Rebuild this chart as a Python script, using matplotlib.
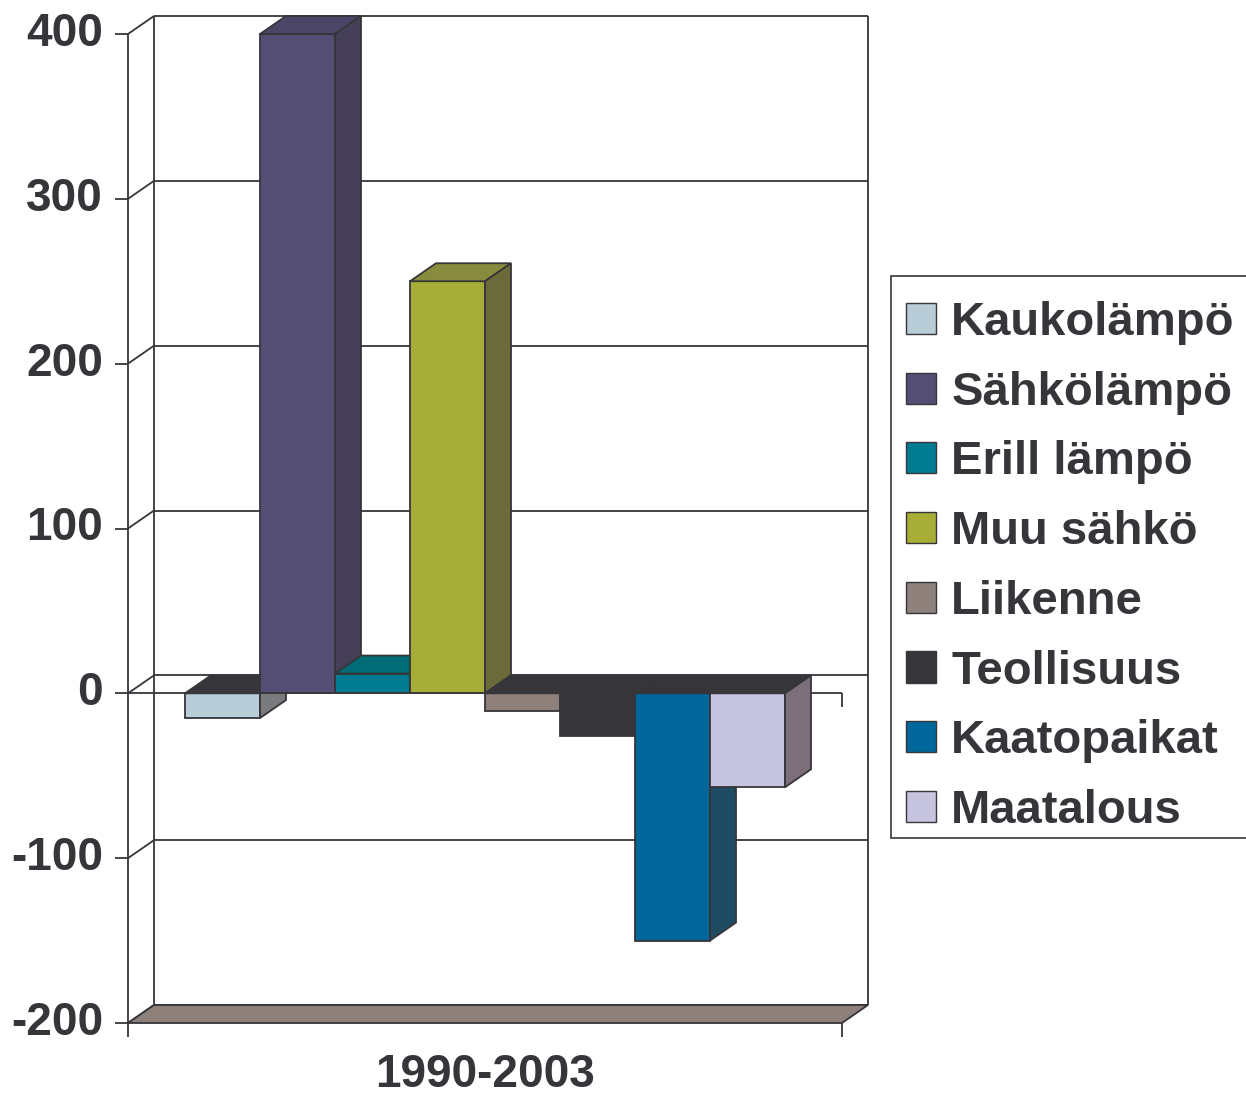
import matplotlib
matplotlib.use("Agg")
import matplotlib.pyplot as plt
from matplotlib.patches import Polygon, Patch, Rectangle

# ---------------- data ----------------
categories = ["Kaukolämpö", "Sähkölämpö", "Erill lämpö", "Muu sähkö",
              "Liikenne", "Teollisuus", "Kaatopaikat", "Maatalous"]
values = [-15, 400, 12, 250, -11, -26, -150, -57]
y_ticks = [400, 300, 200, 100, 0, -100, -200]
period_label = "1990-2003"

# ---------------- styles ----------------
front_colors = ["#b8cdd8", "#544e75", "#007b92", "#a6ae38",
                "#8e807b", "#36353a", "#00679b", "#c7c4e0"]
side_colors = ["#7a7b7d", "#453f58", "#005f6e", "#6a6a3a",
               "#6e625e", "#2a292d", "#1f4c63", "#7c6f7b"]
top_colors = ["#36353a", "#4b4567", "#006c78", "#888a3d",
              "#36353a", "#36353a", "#36353a", "#36353a"]
edge = "#36353a"
text_color = "#36353a"
floor_color = "#8e817c"
FONT = "Liberation Sans"

W, H, DPI = 1246, 1097, 100
# layout (pixels)
X0_PX, BAR_PX = 185, 75          # left edge of first bar, bar width
Y400_PX, YM200_PX = 34, 1023     # pixel rows of value 400 and -200
DX_PX, DY_PX = 26, 18            # 3-D depth offset
AX_L_PX, AX_R_PX = 128, 842      # front axis extent

ppv = (YM200_PX - Y400_PX) / (y_ticks[0] - y_ticks[-1])
ymax = y_ticks[0] + Y400_PX / ppv
ymin = y_ticks[0] - (H - Y400_PX) / ppv
xmin = -X0_PX / BAR_PX
xmax = (W - X0_PX) / BAR_PX
dx = DX_PX / BAR_PX
dy = DY_PX / ppv
axl = (AX_L_PX - X0_PX) / BAR_PX
axr = (AX_R_PX - X0_PX) / BAR_PX
vmax, vmin = y_ticks[0], y_ticks[-1]

fig = plt.figure(figsize=(W / DPI, H / DPI), dpi=DPI)
ax = fig.add_axes([0, 0, 1, 1])
ax.set_xlim(xmin, xmax)
ax.set_ylim(ymin, ymax)
ax.axis("off")

lw = 1.3


def poly(pts, fc, z, ec=edge, lw_=lw):
    ax.add_patch(Polygon(pts, closed=True, facecolor=fc, edgecolor=ec,
                         linewidth=lw_, zorder=z, joinstyle="miter"))


def line(xs, ys, z=1, lw_=lw):
    ax.plot(xs, ys, color=edge, linewidth=lw_, zorder=z,
            solid_capstyle="butt")


# back wall + left wall
line([axl + dx, axl + dx], [vmin + dy, vmax + dy])
line([axr + dx, axr + dx], [vmin + dy, vmax + dy])
line([axl, axl], [vmin, vmax])
for t in y_ticks:
    line([axl + dx, axr + dx], [t + dy, t + dy])
    line([axl, axl + dx], [t, t + dy])
    # tick marks
    line([axl - 13 / BAR_PX, axl], [t, t])
    ax.text(axl - 25 / BAR_PX, t, f"{t}", ha="right", va="center",
            fontsize=33, fontweight="bold", family=FONT, color=text_color)

# floor slab
poly([(axl, vmin), (axr, vmin), (axr + dx, vmin + dy), (axl + dx, vmin + dy)],
     floor_color, 2)
line([axl, axl], [vmin, vmin - 14 / ppv], z=2)
line([axr, axr], [vmin, vmin - 14 / ppv], z=2)

# zero axis line (front)
line([axl, axr], [0, 0], z=2)
line([axr, axr], [0, -14 / ppv], z=2)

# bars
for i, v in enumerate(values):
    x1, x2 = i, i + 1
    lo, hi = min(0, v), max(0, v)
    z = 3 + i
    poly([(x1, lo), (x2, lo), (x2, hi), (x1, hi)], front_colors[i], z)
    poly([(x1, hi), (x2, hi), (x2 + dx, hi + dy), (x1 + dx, hi + dy)],
         top_colors[i], z)
    poly([(x2, lo), (x2 + dx, lo + dy), (x2 + dx, hi + dy), (x2, hi)],
         side_colors[i], z)

# category label
ax.text((axl + axr) / 2, vmin - (1087 - YM200_PX) / ppv, period_label,
        ha="center", va="baseline", fontsize=33, fontweight="bold",
        family=FONT, color=text_color)

# legend (frame drawn separately)
fig.patches.append(Rectangle((891 / W, 1 - 838 / H), (1250 - 891) / W,
                             (838 - 276) / H, transform=fig.transFigure,
                             facecolor="white", edgecolor=edge,
                             linewidth=1.2, zorder=20))
handles = [Patch(facecolor=c, edgecolor=edge, linewidth=1.0)
           for c in front_colors]
leg = fig.legend(handles, categories, loc="upper left",
                 bbox_to_anchor=(906 / W, 1 - 301 / H),
                 bbox_transform=fig.transFigure, frameon=False,
                 borderaxespad=0, borderpad=0, handlelength=0.64,
                 handleheight=0.64, handletextpad=0.32, labelspacing=0.545,
                 prop={"family": FONT, "weight": "bold", "size": 34})
leg.set_zorder(30)
for t in leg.get_texts():
    t.set_color(text_color)

fig.savefig("out.png", dpi=DPI)
